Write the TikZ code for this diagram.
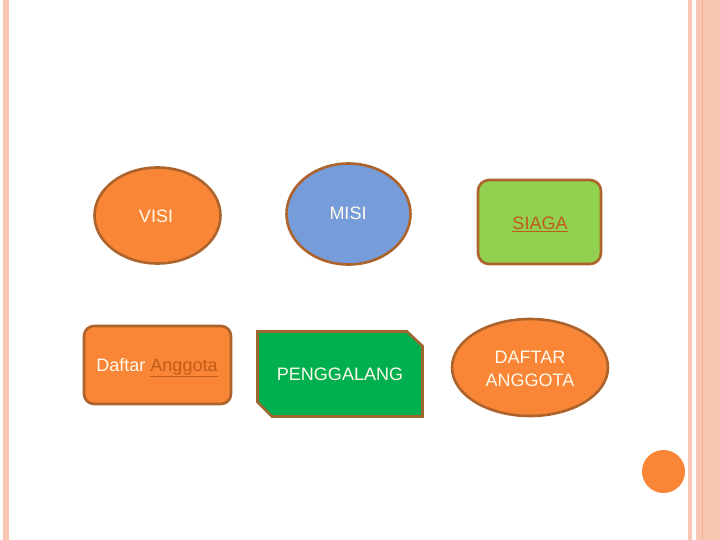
\documentclass[tikz,border=0pt]{standalone}
\usepackage{fontspec}
\setmainfont{Liberation Sans}
\definecolor{stripe}{RGB}{249,198,177}
\definecolor{stripedk}{RGB}{240,160,120}
\definecolor{orfill}{RGB}{249,133,54}
\definecolor{brownline}{RGB}{172,100,44}
\definecolor{bluefill}{RGB}{118,156,218}
\definecolor{lgreen}{RGB}{146,208,80}
\definecolor{dgreen}{RGB}{0,176,80}
\definecolor{linktext}{RGB}{192,92,24}
\definecolor{txtwhite}{RGB}{255,250,235}
\tikzset{
  shp/.style={draw=brownline, line width=2.6pt},
  lbl/.style={font=\fontsize{18}{21}\selectfont, text=txtwhite, align=center},
}
\begin{document}
\begin{tikzpicture}[x=1pt,y=-1pt]
\useasboundingbox (0,0) rectangle (720,540);
% page stripes
\fill[stripe] (3,0) rectangle (9,540);
\fill[stripe] (688,0) rectangle (692,540);
\fill[stripe] (696,0) rectangle (720,540);
\fill[stripedk!60!stripe] (701.5,0) rectangle (703,540);
% shapes
\path[shp, fill=orfill] (157.5,215.5) ellipse [x radius=63, y radius=48];
\path[shp, fill=bluefill] (348.5,214) ellipse [x radius=62, y radius=50.5];
\path[shp, fill=lgreen, rounded corners=11] (478,180) rectangle (601,264);
\path[shp, fill=orfill, rounded corners=10] (84,326) rectangle (231,404);
\path[shp, fill=dgreen, draw={rgb,255:red,156;green,104;blue,48}]
  (257.5,331.5) -- (407,331.5) -- (422.5,346) -- (422.5,416.5) -- (272,416.5) -- (257.5,402) -- cycle;
\path[shp, fill=orfill] (530,367.5) ellipse [x radius=78, y radius=48.5];
\fill[orfill] (663.5,471.5) circle [radius=21.5];
% labels
\node[lbl] (visi) at (156,216) {VISI};
\node[lbl] (misi) at (348,213) {MISI};
\node[lbl, text=linktext] (siaga) at (540,224) {\underline{SIAGA}};
\node[lbl] (daftar) at (157,367.5) {Daftar \textcolor{linktext}{\underline{Anggota}}};
\node[lbl] (peng) at (340,374) {PENGGALANG};
\node[lbl, font=\fontsize{18}{23}\selectfont] (dafa) at (530,368.5) {DAFTAR\\ANGGOTA};
\end{tikzpicture}
\end{document}
